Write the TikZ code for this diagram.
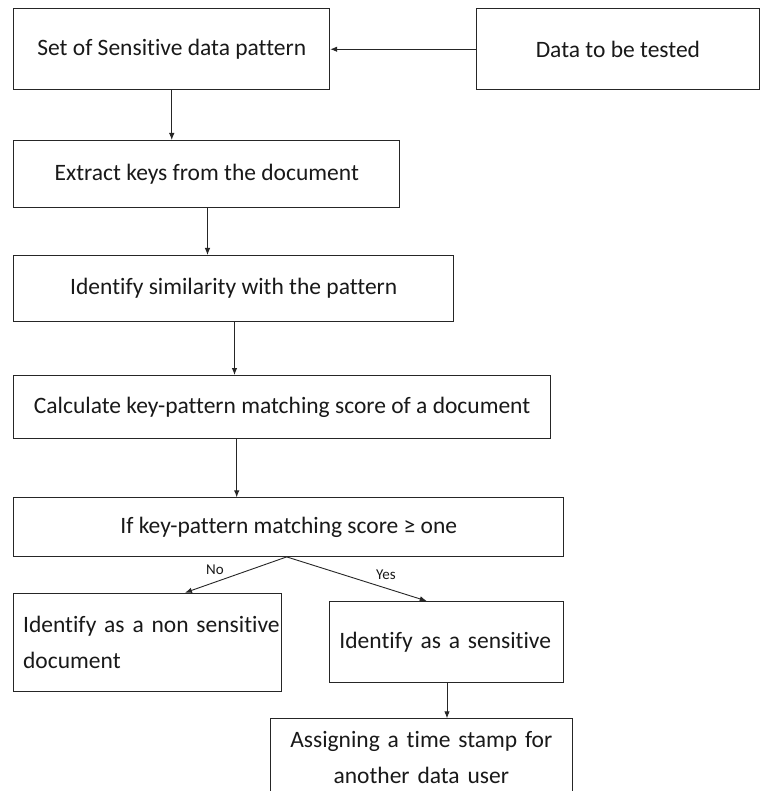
\documentclass[tikz,border=0pt]{standalone}
\usepackage{fontspec}
\setmainfont{Carlito}[Ligatures=NoCommon]
\usetikzlibrary{arrows.meta}
\begin{document}
\begin{tikzpicture}[x=1pt,y=-1pt,
  box/.style={draw=black!85, line width=0.9pt, inner sep=0pt, anchor=north west,
    font=\fontsize{23.5}{36}\selectfont, text=black!90},
  arr/.style={draw=black!85, line width=0.9pt, -{Latex[length=7pt,width=5.5pt]}},
  lbl/.style={font=\fontsize{15}{18}\selectfont, inner sep=0pt, text=black!90}]
\useasboundingbox[fill=white] (0,0) rectangle (760,791);
\node[box, minimum width=316pt, minimum height=81pt] (b1) at (13.3,8.3) {Set of Sensitive data pattern};
\node[box, minimum width=283.5pt, minimum height=81pt] (b2) at (475.7,8.3) {Data to be tested};
\node[box, minimum width=386pt, minimum height=66.7pt] (b3) at (13.3,140) {Extract keys from the document};
\node[box, minimum width=440pt, minimum height=66pt] (b4) at (13.3,255) {Identify similarity with the pattern};
\node[box, minimum width=536.7pt, minimum height=63.3pt] (b5) at (13.3,375) {Calculate key-pattern matching score of a document};
\node[box, minimum width=550pt, minimum height=58.7pt] (b6) at (13.3,497.3) {If key-pattern matching score ≥ one};
\node[box, minimum width=267.4pt, minimum height=98.3pt, inner xsep=9.4pt, text width=248.6pt, align=left] (b7) at (13.3,592.7) {\mbox{Identify as a non sensitive}\\document};
\node[box, minimum width=234pt, minimum height=80.7pt, inner xsep=9.7pt, text width=214.6pt, align=left] (b8) at (329.3,601) {\mbox{Identify as a sensitive}};
\node[box, minimum width=301.7pt, minimum height=77pt, text width=290pt, align=center] (b9) at (270,718.3) {Assigning a time stamp for\\another data user};

\coordinate (c3) at (207.5,0);
\coordinate (c4) at (234.5,0);
\coordinate (c5) at (236.7,0);
\coordinate (fk) at (286.7,0);
\coordinate (tn) at (185,0);
\coordinate (ty) at (426.7,0);
\coordinate (c8) at (447,0);

\draw[arr] (b2.west) -- (b1.east);
\draw[arr] (b1.south) -- (b1.south |- b3.north);
\draw[arr] (b3.south -| c3) -- (b4.north -| c3);
\draw[arr] (b4.south -| c4) -- (b5.north -| c4);
\draw[arr] (b5.south -| c5) -- (b6.north -| c5);
\draw[arr] (b6.south -| fk) -- (b7.north -| tn);
\draw[arr] (b6.south -| fk) -- (b8.north -| ty);
\draw[arr] (b8.south -| c8) -- (b9.north -| c8);

\node[lbl] (no) at (215,570) {No};
\node[lbl] (yes) at (386,575) {Yes};
\end{tikzpicture}
\end{document}
